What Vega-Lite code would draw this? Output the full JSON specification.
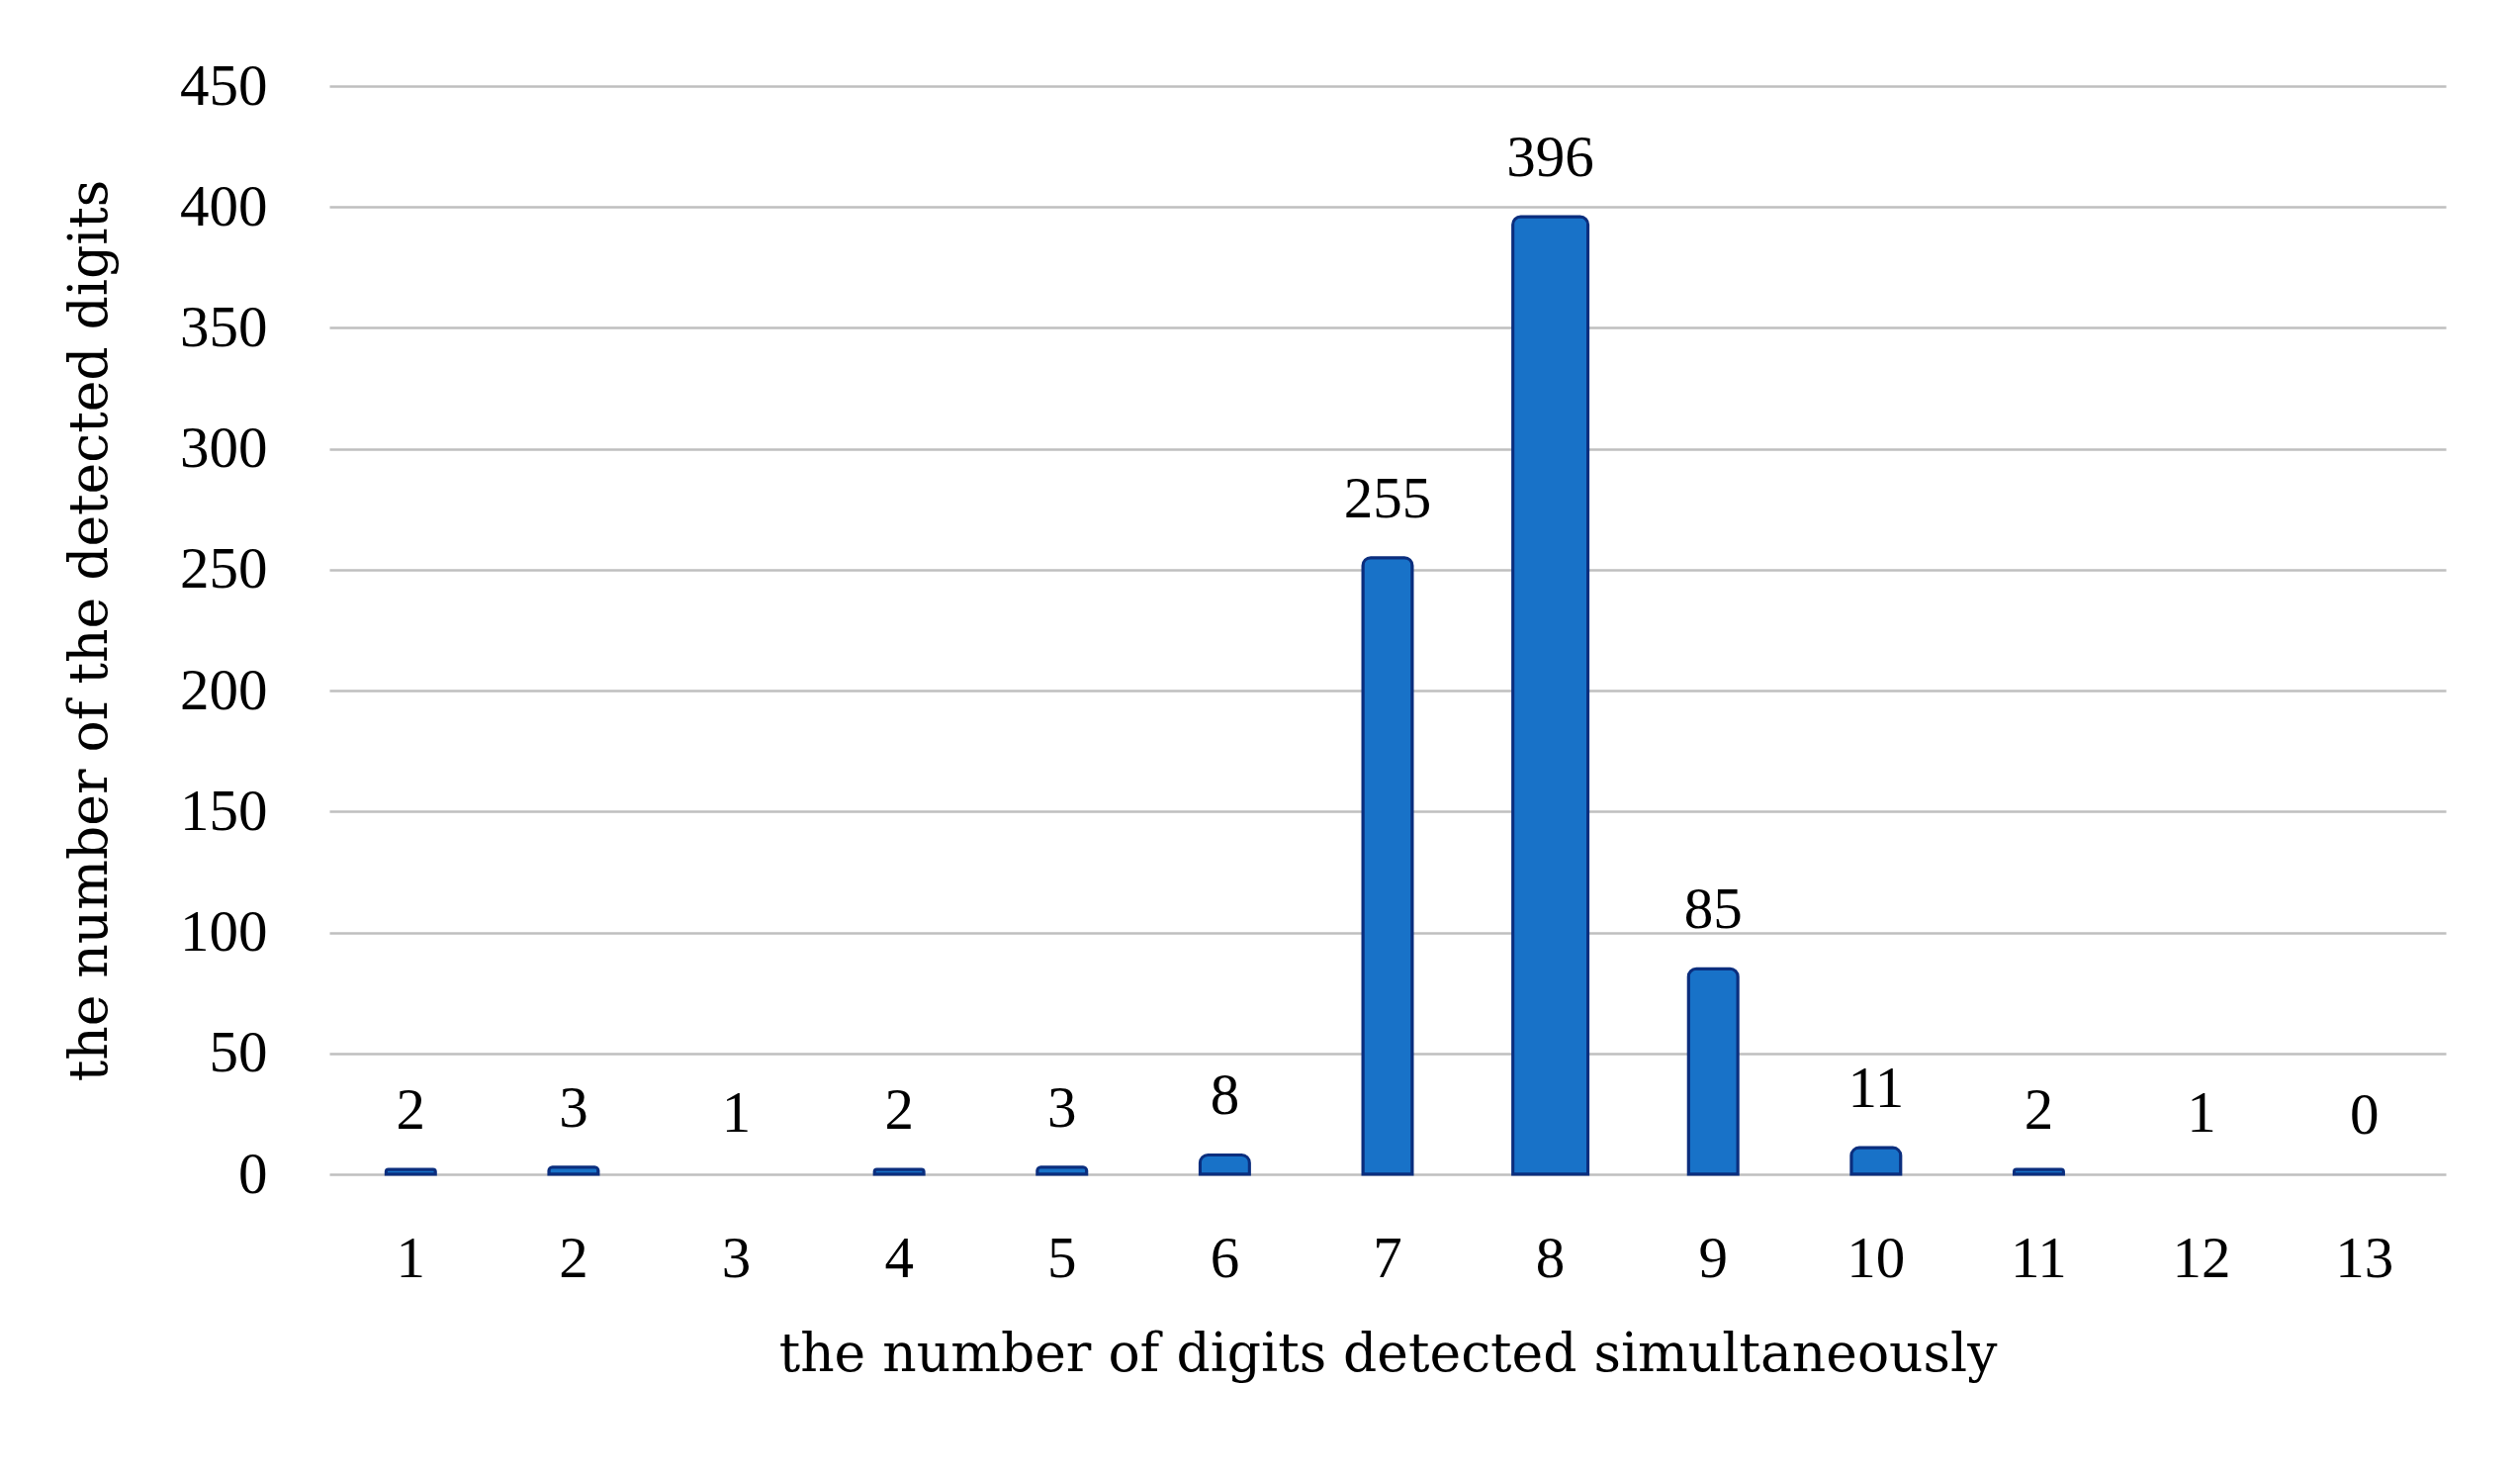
{
  "$schema": "https://vega.github.io/schema/vega-lite/v6.json",
  "autosize": {"type": "none"},
  "width": 2140,
  "height": 1100,
  "padding": {"left": 333, "top": 87, "right": 75, "bottom": 306},
  "background": "white",
  "config": {
    "view": {"stroke": null},
    "font": "Liberation Serif"
  },
  "data": {
    "values": [
      {"digits": "1", "count": 2},
      {"digits": "2", "count": 3},
      {"digits": "3", "count": 1},
      {"digits": "4", "count": 2},
      {"digits": "5", "count": 3},
      {"digits": "6", "count": 8},
      {"digits": "7", "count": 255},
      {"digits": "8", "count": 396},
      {"digits": "9", "count": 85},
      {"digits": "10", "count": 11},
      {"digits": "11", "count": 2},
      {"digits": "12", "count": 1},
      {"digits": "13", "count": 0}
    ]
  },
  "encoding": {
    "x": {
      "field": "digits",
      "type": "ordinal",
      "sort": ["1", "2", "3", "4", "5", "6", "7", "8", "9", "10", "11", "12", "13"],
      "scale": {
        "domain": ["1", "2", "3", "4", "5", "6", "7", "8", "9", "10", "11", "12", "13"],
        "paddingInner": 0.54,
        "paddingOuter": 0.27
      },
      "axis": {
        "title": "the number of digits detected simultaneously",
        "labelAngle": 0,
        "labelFontSize": 59,
        "labelColor": "#000000",
        "labelPadding": 56,
        "labelBaseline": "top",
        "ticks": false,
        "domain": false,
        "titleFont": "DejaVu Serif",
        "titleFontSize": 53.5,
        "titleFontWeight": "normal",
        "titleColor": "#000000",
        "titlePadding": 41
      }
    },
    "y": {
      "field": "count",
      "type": "quantitative",
      "scale": {"domain": [0, 450], "nice": false},
      "axis": {
        "values": [0, 50, 100, 150, 200, 250, 300, 350, 400, 450],
        "title": "the number of the detected digits",
        "labelFontSize": 59,
        "labelColor": "#000000",
        "labelPadding": 63,
        "ticks": false,
        "domain": false,
        "gridColor": "#bfbfbf",
        "gridWidth": 2.5,
        "titleFont": "DejaVu Serif",
        "titleFontSize": 53.5,
        "titleFontWeight": "normal",
        "titleColor": "#000000",
        "titlePadding": 63
      }
    }
  },
  "layer": [
    {
      "transform": [{"filter": "datum.count >= 2"}],
      "mark": {
        "type": "bar",
        "color": "#1872C8",
        "stroke": "#0B2E7E",
        "strokeWidth": 3,
        "cornerRadiusTopLeft": 8,
        "cornerRadiusTopRight": 8
      },
      "encoding": {
        "size": {"condition": {"test": "datum.digits === '8'", "value": 76}, "value": 50}
      }
    },
    {
      "mark": {
        "type": "text",
        "fontSize": 59,
        "color": "#000000",
        "baseline": "middle",
        "dy": -59
      },
      "encoding": {
        "text": {"field": "count", "type": "quantitative"}
      }
    }
  ]
}
